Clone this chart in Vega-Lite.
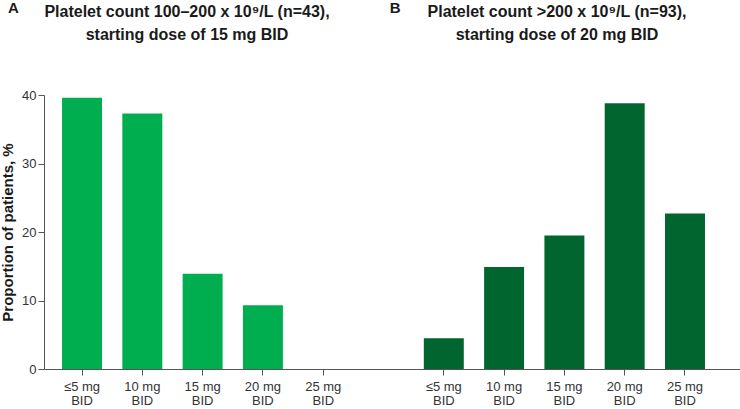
{
  "$schema": "https://vega.github.io/schema/vega-lite/v6.json",
  "autosize": "none",
  "width": 696,
  "height": 274,
  "padding": {"left": 44, "top": 95, "right": 0, "bottom": 40},
  "background": "white",
  "config": {"view": {"stroke": null}, "font": "Liberation Sans"},
  "layer": [
    {
      "data": {
        "values": [
          {"panel": "A", "dose": "≤5 mg BID", "percent": 39.6},
          {"panel": "A", "dose": "10 mg BID", "percent": 37.3},
          {"panel": "A", "dose": "15 mg BID", "percent": 13.9},
          {"panel": "A", "dose": "20 mg BID", "percent": 9.3},
          {"panel": "A", "dose": "25 mg BID", "percent": 0},
          {"panel": "B", "dose": "≤5 mg BID", "percent": 4.5},
          {"panel": "B", "dose": "10 mg BID", "percent": 14.9},
          {"panel": "B", "dose": "15 mg BID", "percent": 19.5},
          {"panel": "B", "dose": "20 mg BID", "percent": 38.8},
          {"panel": "B", "dose": "25 mg BID", "percent": 22.7}
        ]
      },
      "transform": [{"calculate": "datum.panel + '|' + datum.dose", "as": "slot"}],
      "mark": {"type": "bar"},
      "encoding": {
        "x": {
          "field": "slot",
          "type": "nominal",
          "sort": null,
          "scale": {
            "domain": ["A|≤5 mg BID", "A|10 mg BID", "A|15 mg BID", "A|20 mg BID", "A|25 mg BID", "gap", "B|≤5 mg BID", "B|10 mg BID", "B|15 mg BID", "B|20 mg BID", "B|25 mg BID"],
            "paddingInner": 0.337,
            "paddingOuter": 0.44,
            "align": 0.34
          },
          "axis": {
            "title": null,
            "values": ["A|≤5 mg BID", "A|10 mg BID", "A|15 mg BID", "A|20 mg BID", "A|25 mg BID", "B|≤5 mg BID", "B|10 mg BID", "B|15 mg BID", "B|20 mg BID", "B|25 mg BID"],
            "labelExpr": "[replace(split(datum.value, '|')[1], ' BID', ''), 'BID']",
            "labelAngle": 0,
            "labelFontSize": 13,
            "labelLineHeight": 14.5,
            "labelPadding": 5,
            "labelColor": "#333333",
            "tickSize": 6,
            "tickColor": "#555555",
            "domainColor": "#555555",
            "grid": false
          }
        },
        "y": {
          "field": "percent",
          "type": "quantitative",
          "scale": {"domain": [0, 40]},
          "axis": {
            "title": "Proportion of patients, %",
            "titleFontSize": 15,
            "titleFontWeight": "bold",
            "titleColor": "#1a1a1a",
            "titlePadding": 6,
            "values": [0, 10, 20, 30, 40],
            "labelFontSize": 13,
            "labelColor": "#333333",
            "labelPadding": 2,
            "tickSize": 6,
            "tickColor": "#555555",
            "domainColor": "#555555",
            "grid": false
          }
        },
        "color": {
          "field": "panel",
          "type": "nominal",
          "scale": {"domain": ["A", "B"], "range": ["#00AE4F", "#00652F"]},
          "legend": null
        }
      }
    },
    {
      "data": {"values": [{"tag": "A"}]},
      "mark": {"type": "text", "fontSize": 15, "fontWeight": "bold", "align": "left", "baseline": "alphabetic", "dx": -74, "color": "#1a1a1a"},
      "encoding": {
        "x": {"datum": "A|≤5 mg BID", "type": "nominal"},
        "y": {"datum": 51.97, "type": "quantitative"},
        "text": {"field": "tag"}
      }
    },
    {
      "data": {"values": [{"tag": "B"}]},
      "mark": {"type": "text", "fontSize": 15, "fontWeight": "bold", "align": "left", "baseline": "alphabetic", "dx": -54, "color": "#1a1a1a"},
      "encoding": {
        "x": {"datum": "B|≤5 mg BID", "type": "nominal"},
        "y": {"datum": 51.97, "type": "quantitative"},
        "text": {"field": "tag"}
      }
    },
    {
      "data": {"values": [{"caption": ["Platelet count 100–200 x 10⁹/L (n=43),", "starting dose of 15 mg BID"]}]},
      "mark": {"type": "text", "fontSize": 16, "fontWeight": "bold", "align": "center", "baseline": "alphabetic", "lineHeight": 23, "dx": -15.6, "color": "#1a1a1a"},
      "encoding": {
        "x": {"datum": "A|15 mg BID", "type": "nominal"},
        "y": {"datum": 51.39, "type": "quantitative"},
        "text": {"field": "caption"}
      }
    },
    {
      "data": {"values": [{"caption": ["Platelet count >200 x 10⁹/L (n=93),", "starting dose of 20 mg BID"]}]},
      "mark": {"type": "text", "fontSize": 16, "fontWeight": "bold", "align": "center", "baseline": "alphabetic", "lineHeight": 23, "dx": -7.4, "color": "#1a1a1a"},
      "encoding": {
        "x": {"datum": "B|15 mg BID", "type": "nominal"},
        "y": {"datum": 51.39, "type": "quantitative"},
        "text": {"field": "caption"}
      }
    }
  ]
}
